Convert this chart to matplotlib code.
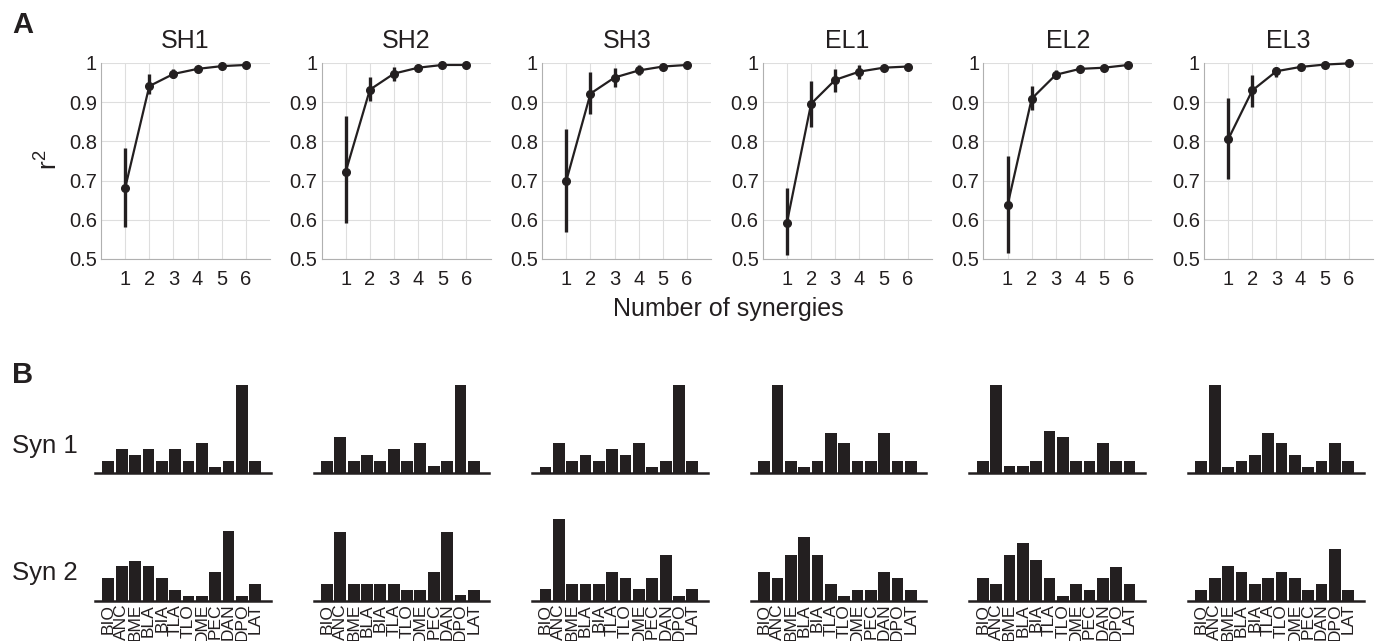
import matplotlib
matplotlib.use('Agg')
import matplotlib.pyplot as plt

plt.rcParams['font.family'] = ['Liberation Sans', 'DejaVu Sans']
plt.rcParams['mathtext.default'] = 'regular'

INK = '#231f20'
GRID = '#dedede'

# panel A: r^2 vs number of synergies (mean, lower and upper end of error bar)
conditions = ['SH1', 'SH2', 'SH3', 'EL1', 'EL2', 'EL3']
n_syn = [1, 2, 3, 4, 5, 6]

r2_mean = {
    'SH1': [0.681, 0.941, 0.972, 0.985, 0.992, 0.995],
    'SH2': [0.723, 0.932, 0.973, 0.988, 0.995, 0.995],
    'SH3': [0.700, 0.922, 0.963, 0.981, 0.991, 0.995],
    'EL1': [0.593, 0.896, 0.957, 0.978, 0.988, 0.991],
    'EL2': [0.637, 0.909, 0.970, 0.985, 0.988, 0.995],
    'EL3': [0.805, 0.930, 0.979, 0.990, 0.996, 0.999],
}
r2_lo = {
    'SH1': [0.582, 0.921, 0.962, 0.978, 0.988, 0.993],
    'SH2': [0.593, 0.902, 0.955, 0.982, 0.992, 0.993],
    'SH3': [0.568, 0.869, 0.940, 0.970, 0.986, 0.992],
    'EL1': [0.510, 0.838, 0.925, 0.960, 0.982, 0.987],
    'EL2': [0.516, 0.881, 0.960, 0.980, 0.984, 0.992],
    'EL3': [0.703, 0.889, 0.965, 0.985, 0.993, 0.997],
}
r2_hi = {
    'SH1': [0.783, 0.972, 0.985, 0.992, 0.996, 0.997],
    'SH2': [0.866, 0.964, 0.990, 0.994, 0.998, 0.997],
    'SH3': [0.832, 0.976, 0.986, 0.995, 0.996, 0.998],
    'EL1': [0.681, 0.953, 0.984, 0.995, 0.994, 0.995],
    'EL2': [0.763, 0.942, 0.983, 0.990, 0.992, 0.998],
    'EL3': [0.911, 0.970, 0.990, 0.995, 0.999, 1.000],
}
r2_ticks = [0.5, 0.6, 0.7, 0.8, 0.9, 1.0]
r2_ticklabels = ['0.5', '0.6', '0.7', '0.8', '0.9', '1']

# panel B: muscle weights of synergy 1 and 2
muscles = ['BIO', 'ANC', 'BME', 'BLA', 'BIA', 'TLA',
           'TLO', 'DME', 'PEC', 'DAN', 'DPO', 'LAT']

syn1 = [
    [0.14, 0.27, 0.20, 0.27, 0.14, 0.27, 0.14, 0.34, 0.065, 0.14, 1.0, 0.14],
    [0.14, 0.41, 0.14, 0.20, 0.14, 0.27, 0.14, 0.34, 0.075, 0.14, 1.0, 0.14],
    [0.065, 0.34, 0.14, 0.20, 0.14, 0.27, 0.20, 0.34, 0.065, 0.14, 1.0, 0.14],
    [0.14, 1.0, 0.14, 0.065, 0.14, 0.46, 0.34, 0.14, 0.14, 0.46, 0.14, 0.14],
    [0.14, 1.0, 0.075, 0.075, 0.14, 0.475, 0.41, 0.14, 0.14, 0.34, 0.14, 0.14],
    [0.14, 1.0, 0.065, 0.14, 0.20, 0.46, 0.34, 0.20, 0.065, 0.14, 0.34, 0.14],
]
syn2 = [
    [0.26, 0.40, 0.455, 0.40, 0.26, 0.125, 0.055, 0.055, 0.33, 0.79, 0.055, 0.19],
    [0.19, 0.78, 0.19, 0.19, 0.19, 0.19, 0.12, 0.12, 0.33, 0.78, 0.065, 0.12],
    [0.135, 0.935, 0.19, 0.19, 0.19, 0.33, 0.26, 0.135, 0.26, 0.52, 0.055, 0.135],
    [0.33, 0.26, 0.52, 0.73, 0.52, 0.19, 0.053, 0.12, 0.12, 0.33, 0.26, 0.12],
    [0.26, 0.19, 0.525, 0.66, 0.47, 0.26, 0.057, 0.19, 0.125, 0.26, 0.39, 0.19],
    [0.125, 0.26, 0.40, 0.33, 0.19, 0.26, 0.33, 0.26, 0.125, 0.19, 0.59, 0.125],
]

W, H = 1380, 641


def px_axes(fig, left, top, width, height):
    # place axes from pixel coords measured from the top-left corner
    return fig.add_axes([left / W, 1 - (top + height) / H, width / W, height / H])


def draw_r2(ax, name):
    mean = r2_mean[name]
    err = [[m - lo for m, lo in zip(mean, r2_lo[name])],
           [hi - m for m, hi in zip(mean, r2_hi[name])]]
    ax.errorbar(n_syn, mean, yerr=err, color=INK, lw=1.6, elinewidth=2.4,
                capsize=0, marker='o', markersize=5.5, zorder=3)
    ax.set_xlim(0, 7)
    ax.set_ylim(0.5, 1.0)
    ax.set_xticks(n_syn)
    ax.set_yticks(r2_ticks)
    ax.set_yticklabels(r2_ticklabels)
    ax.grid(True, color=GRID, lw=0.8)
    ax.set_axisbelow(True)
    for side in ('top', 'right'):
        ax.spines[side].set_visible(False)
    for side in ('left', 'bottom'):
        ax.spines[side].set_color('#b0b0b0')
        ax.spines[side].set_linewidth(0.8)
    ax.tick_params(length=0, labelsize=14.5, colors=INK)
    ax.tick_params(axis='x', pad=8)
    ax.tick_params(axis='y', pad=3)
    ax.set_title(name, fontsize=18, color=INK, pad=11)
    for art in ax.get_children():
        art.set_clip_on(False)


def draw_bars(ax, values, labels):
    ax.bar(range(1, len(values) + 1), values, width=0.88, color=INK)
    ax.set_xlim(0, 13.15)
    ax.set_ylim(0, 1.0)
    for side in ('top', 'right', 'left'):
        ax.spines[side].set_visible(False)
    ax.spines['bottom'].set_color(INK)
    ax.spines['bottom'].set_linewidth(1.8)
    ax.set_yticks([])
    ax.tick_params(axis='x', length=0)
    if labels:
        ax.set_xticks(range(1, len(muscles) + 1))
        ax.set_xticklabels(muscles, rotation=90, fontsize=12.5, color=INK,
                           va='top', ha='center')
        ax.tick_params(axis='x', pad=2)
    else:
        ax.set_xticks([])


fig = plt.figure(figsize=(W / 100, H / 100), dpi=100)

for i, name in enumerate(conditions):
    ax = px_axes(fig, 101 + 220.6 * i, 63, 169, 196)
    draw_r2(ax, name)

for i in range(len(conditions)):
    left = 95 + 218.6 * i
    ax1 = px_axes(fig, left, 385, 175.5, 88)
    draw_bars(ax1, syn1[i], False)
    ax2 = px_axes(fig, left, 513, 175.5, 88)
    draw_bars(ax2, syn2[i], True)

fig.text(12 / W, 1 - 33 / H, 'A', fontsize=21, weight='bold', color=INK,
         va='baseline')
fig.text(12 / W, 1 - 383 / H, 'B', fontsize=21, weight='bold', color=INK,
         va='baseline')
fig.text(49 / W, 1 - 160 / H, 'r$^2$', fontsize=19, color=INK, rotation=90,
         ha='center', va='center')
fig.text(728 / W, 1 - 316 / H, 'Number of synergies', fontsize=18,
         color=INK, ha='center', va='baseline')
fig.text(12 / W, 1 - 453 / H, 'Syn 1', fontsize=18.5, color=INK,
         va='baseline')
fig.text(12 / W, 1 - 580 / H, 'Syn 2', fontsize=18.5, color=INK,
         va='baseline')

fig.savefig('out.png', dpi=100)
